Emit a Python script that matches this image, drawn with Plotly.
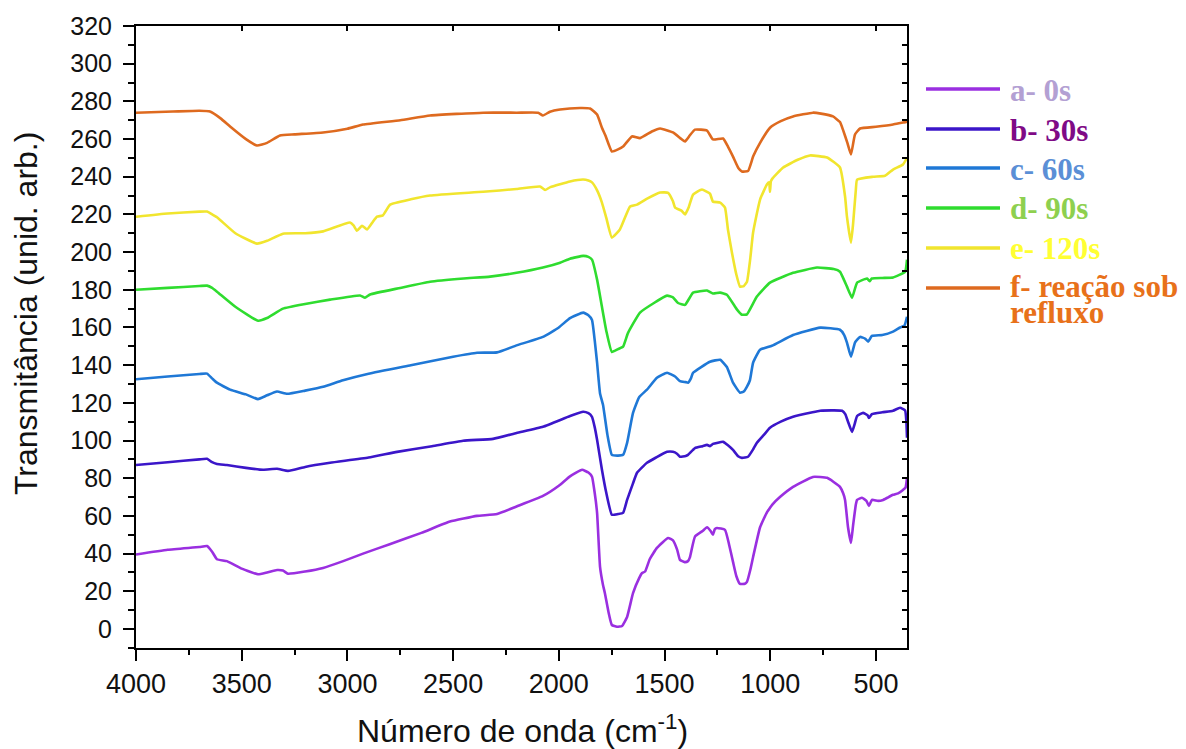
import plotly.graph_objects as go

# ---------------- data (wavenumber cm-1, transmittance arb. units) ----------------
wn_a = [4000, 3850, 3700, 3664, 3640, 3617, 3570, 3500, 3423, 3380, 3333, 3305, 3281, 3200, 3115, 3020,
        2926, 2800, 2650, 2515, 2387, 2292, 2200, 2075, 2000, 1947, 1890, 1860, 1843, 1830, 1819, 1805,
        1791, 1782, 1765, 1749, 1725, 1701, 1677, 1649, 1620, 1606, 1592, 1570, 1536, 1483, 1460, 1440,
        1427, 1405, 1389, 1380, 1356, 1320, 1299, 1282, 1271, 1262, 1252, 1214, 1195, 1176, 1160, 1143,
        1120, 1110, 1095, 1081, 1048, 1015, 1001, 990, 954, 892, 798, 731, 700, 670, 655, 646, 632, 618,
        608, 595, 589, 566, 545, 533, 519, 490, 466, 440, 419, 395, 372, 360, 353]
t_a = [39.5, 42, 43.5, 44, 41, 37, 36, 32, 29, 30, 31.3, 31, 29.3, 30.5, 32.4, 36,
       40, 45, 51, 57, 60, 61, 65, 70.6, 76, 81, 84.5, 83, 80.8, 72, 61.6, 33,
       23.4, 19, 9, 2.1, 1.2, 1.6, 6.4, 19, 27, 29.7, 30.5, 37, 43, 48.3, 47, 42,
       36.7, 35.5, 36, 38, 49, 52, 54, 52, 50, 53, 53.6, 52.6, 45, 35.6, 28, 23.9,
       24, 25, 31, 38.2, 54, 62, 64.3, 66, 70, 75.4, 80.7, 80.2, 78, 75.4, 72, 68.5, 54, 45.7,
       55, 66, 68.5, 69.6, 68, 65.3, 68.5, 68, 68.5, 70, 71.2, 72, 73.8, 75, 80]

wn_b = [4000, 3850, 3700, 3664, 3640, 3617, 3570, 3480, 3399, 3333, 3281, 3200, 3082, 2900, 2765, 2600,
        2453, 2311, 2200, 2075, 1947, 1885, 1860, 1843, 1830, 1819, 1796, 1775, 1749, 1720, 1696, 1677,
        1650, 1630, 1583, 1540, 1488, 1460, 1441, 1427, 1400, 1389, 1356, 1320, 1299, 1285, 1271, 1223,
        1200, 1176, 1150, 1134, 1105, 1080, 1063, 1030, 1001, 950, 892, 800, 764, 700, 660, 645, 632,
        613, 600, 589, 561, 540, 533, 519, 470, 419, 386, 362, 356, 353]
t_b = [87, 88.5, 90, 90.3, 88.5, 87.6, 87, 85.5, 84.5, 85, 83.9, 86, 88.2, 91, 94, 97,
       99.9, 100.9, 104, 107.3, 113, 115.3, 114.5, 112.6, 107, 100.4, 84.5, 72, 60.6, 61, 61.6, 68.5,
       77, 82.9, 88.2, 91, 94, 94, 93, 91.4, 91.8, 92.4, 96, 97, 97.7, 97, 98.2, 99.3,
       97.5, 95, 91.5, 90.8, 91.4, 95.5, 98.8, 103, 106.8, 110, 112.6, 115, 115.8, 116, 115.8, 114, 110,
       104.6, 109, 113, 114.7, 113.5, 112, 114, 115, 115.8, 117.4, 116, 110, 101.5]

wn_c = [4000, 3850, 3700, 3664, 3640, 3617, 3555, 3480, 3423, 3380, 3333, 3285, 3200, 3115, 3021, 2900,
        2700, 2500, 2387, 2292, 2200, 2075, 2000, 1947, 1885, 1860, 1843, 1830, 1819, 1805, 1791, 1770,
        1749, 1720, 1696, 1677, 1649, 1620, 1583, 1536, 1488, 1450, 1427, 1400, 1389, 1375, 1365, 1285,
        1237, 1205, 1176, 1143, 1125, 1110, 1096, 1081, 1048, 992, 892, 764, 670, 650, 637, 618, 599,
        575, 550, 537, 519, 470, 419, 386, 365, 353]
t_c = [132.5, 134, 135.3, 135.5, 133, 130.7, 127, 124.5, 122, 124, 126, 124.8, 126.5, 128.5, 132, 135.5,
       140, 144.5, 146.6, 146.8, 150.5, 155, 160, 165, 167.9, 166.5, 164, 153, 141.3, 125, 119, 103,
       92.4, 92, 92.4, 98.8, 114.7, 123, 127, 133.3, 136, 134, 131.5, 131, 130.7, 133, 136, 141.8,
       142.9, 139, 130.7, 125.4, 126, 128.6, 132, 141.3, 148.2, 150.3, 156, 159.9, 158.8, 156, 152, 144.5, 152,
       155, 154, 152.5, 155.5, 156, 157.8, 160, 161, 165.7]

wn_d = [4000, 3850, 3700, 3664, 3640, 3617, 3530, 3423, 3380, 3305, 3200, 3082, 2940, 2917, 2893, 2750,
        2609, 2450, 2325, 2200, 2075, 1994, 1947, 1885, 1860, 1843, 1819, 1796, 1775, 1749, 1720, 1696,
        1673, 1616, 1550, 1488, 1460, 1436, 1403, 1385, 1365, 1299, 1271, 1237, 1205, 1157, 1134, 1110,
        1063, 1001, 892, 779, 700, 670, 650, 637, 613, 589, 542, 530, 519, 470, 419, 362, 353]
t_d = [180, 181, 182, 182.2, 181, 179, 171, 163.6, 165, 170, 172.5, 174.8, 177, 175.8, 177.5, 181,
       184.3, 186, 187, 189, 191.8, 194.4, 196.5, 198, 197.5, 196, 185.4, 171, 158, 147, 148.5, 149.8,
       157, 167.9, 173, 176.9, 176, 173, 172, 175, 178.5, 179.6, 178, 178.5, 177.4, 169.5, 166.8, 167,
       176.4, 183.8, 189, 191.8, 191, 189.6, 185, 181.7, 175.8, 183.8, 186, 184.5, 186, 186.3, 186.5, 189.6, 196]

wn_e = [4000, 3850, 3700, 3664, 3640, 3617, 3530, 3428, 3380, 3305, 3200, 3115, 2988, 2970, 2955, 2931,
        2907, 2880, 2860, 2832, 2798, 2700, 2609, 2358, 2200, 2089, 2065, 2040, 1947, 1885, 1860, 1843,
        1820, 1796, 1775, 1749, 1711, 1663, 1630, 1580, 1521, 1483, 1460, 1450, 1420, 1403, 1385, 1365,
        1323, 1285, 1271, 1237, 1214, 1200, 1181, 1160, 1143, 1125, 1110, 1095, 1081, 1048, 1015, 1005,
        1001, 997, 990, 939, 870, 812, 731, 670, 646, 637, 618, 608, 595, 589, 514, 457, 419, 372, 353]
t_e = [218.8, 220.5, 221.5, 221.5, 220, 218.5, 210, 204.5, 206, 209.8, 210, 211, 215.7, 214, 211.4, 214,
       212, 216, 218.8, 219.5, 225.2, 228, 230, 232, 233.5, 234.8, 233, 234.5, 237.5, 238.5, 238, 237,
       233, 226.3, 218, 207.7, 212, 224.2, 225.2, 228.5, 231.6, 231.5, 227, 223.6, 222, 220, 224, 230.5,
       233.2, 231, 226.8, 226.3, 223.6, 212, 199.7, 188, 181.7, 182, 184.3, 196, 210.4, 227.9, 236, 237,
       232, 237.5, 239, 244.9, 249, 251.3, 250.2, 244.9, 229.5, 218.8, 205, 215, 233, 238.5, 240, 240.5, 243.8, 246.5, 250]

wn_f = [4000, 3825, 3700, 3650, 3600, 3555, 3480, 3428, 3380, 3319, 3250, 3115, 3000, 2926, 2750, 2609,
        2358, 2200, 2098, 2075, 2042, 1994, 1900, 1852, 1819, 1796, 1780, 1749, 1720, 1696, 1654, 1616,
        1560, 1521, 1460, 1420, 1403, 1380, 1356, 1299, 1271, 1223, 1200, 1176, 1150, 1134, 1105, 1080,
        1048, 1001, 950, 892, 798, 760, 703, 670, 656, 635, 618, 599, 575, 500, 419, 372, 358, 353]
t_f = [274, 274.6, 275, 274.6, 271, 266.7, 260, 256.6, 258, 261.9, 262.5, 263.5, 265.5, 267.7, 270, 272.5,
       274, 274, 274, 272.5, 274.5, 275.7, 276.5, 276.2, 273, 266, 262, 253.4, 254.5, 256, 261.4, 260.5,
       264, 265.6, 263.5, 260, 258.7, 262, 265, 264.5, 259.8, 260.3, 256, 250.7, 244.5, 242.8, 243, 251,
       258, 266, 269.5, 272, 274, 273.5, 272, 269, 265, 258, 251.8, 262.4, 265.6, 266.5, 267.7, 268.8, 269, 270]

series_names = ["a- 0s", "b- 30s", "c- 60s", "d- 90s", "e- 120s", "f- reação sob refluxo"]
legend_text = ["a- 0s", "b- 30s", "c- 60s", "d- 90s", "e- 120s", "f- reação sob", "refluxo"]

x_title = "Número de onda (cm<sup>-1</sup>)"
y_title = "Transmitância (unid. arb.)"

line_colors = ["#9a2fe0", "#3b16c9", "#1f78d6", "#2fdc2f", "#f1e52e", "#de6a1f"]
text_colors = ["#b3a0d3", "#7f0a86", "#5b8fd6", "#8ed04f", "#ffff33", "#e8711a"]

# ---------------- figure ----------------
OFF = 8                      # page body margin of the html page
W, H = 1186 - OFF, 749 - OFF
PL, PR, PT, PB = 136, 907, 26, 648    # plot area edges in page pixels
L, T = PL - OFF, PT - OFF
R, B = W - (PR - OFF), H - (PB - OFF)
pw, ph = PR - PL, PB - PT

def px_x(px):
    return (px - PL) / pw

def px_y(py):
    return (PB - py) / ph

fig = go.Figure()
for wn, tv, name, col in zip([wn_a, wn_b, wn_c, wn_d, wn_e, wn_f],
                             [t_a, t_b, t_c, t_d, t_e, t_f],
                             series_names, line_colors):
    fig.add_trace(go.Scatter(x=wn, y=tv, mode="lines", name=name,
                             line=dict(color=col, width=2.6, shape="spline", smoothing=0.4),
                             showlegend=False))

# invisible trace to activate the mirror (top / right) axes with inward ticks
fig.add_trace(go.Scatter(x=[4000], y=[-50], xaxis="x2", yaxis="y2",
                         mode="markers", marker=dict(size=1, opacity=0),
                         showlegend=False, hoverinfo="skip"))

xr = [4000, 353]
yr = [-10.1, 320]

fig.update_layout(
    width=W, height=H,
    margin=dict(l=L, r=R, t=T, b=B),
    paper_bgcolor="white", plot_bgcolor="white",
    showlegend=False,
    xaxis=dict(range=xr, tick0=0, dtick=500, ticks="outside", ticklen=11, tickwidth=2,
               tickcolor="black", showline=True, linecolor="black", linewidth=2,
               showgrid=False, zeroline=False, automargin=False,
               tickfont=dict(family="Liberation Sans Narrow, Arial Narrow, Liberation Sans, Arial",
                             size=27, color="#111111"),
               minor=dict(dtick=250, ticks="outside", ticklen=5, tickwidth=2, tickcolor="black",
                          showgrid=False)),
    yaxis=dict(range=yr, tick0=0, dtick=20, ticks="outside", ticklen=11, tickwidth=2,
               tickcolor="black", showline=True, linecolor="black", linewidth=2,
               showgrid=False, zeroline=False, ticklabelstandoff=6, automargin=False,
               tickfont=dict(family="Liberation Sans, Arial", size=25, color="#111111"),
               minor=dict(dtick=10, ticks="outside", ticklen=6, tickwidth=2, tickcolor="black",
                          showgrid=False)),
    xaxis2=dict(range=xr, overlaying="x", side="top", anchor="y2", tick0=0, dtick=500,
                ticks="inside", ticklen=5, tickwidth=2, tickcolor="black", automargin=False,
                showline=True, linecolor="black", linewidth=2, showticklabels=False,
                showgrid=False, zeroline=False),
    yaxis2=dict(range=yr, overlaying="y", side="right", anchor="x2", tick0=0, dtick=10,
                ticks="inside", ticklen=5, tickwidth=2, tickcolor="black", automargin=False,
                showline=True, linecolor="black", linewidth=2, showticklabels=False,
                showgrid=False, zeroline=False),
)

# axis titles
fig.add_annotation(text=y_title, xref="paper", yref="paper", x=px_x(26), y=px_y(314),
                   textangle=-90, showarrow=False, xanchor="center", yanchor="middle",
                   font=dict(family="Liberation Sans, Arial", size=32, color="#111111"))
fig.add_annotation(text=x_title, xref="paper", yref="paper", x=px_x(522), y=px_y(729),
                   showarrow=False, xanchor="center", yanchor="middle",
                   font=dict(family="Liberation Sans, Arial", size=32, color="#111111"))

# custom legend (coloured line + coloured bold serif label)
line_y = [89, 129, 168, 208, 248, 288]
for ly, lc in zip(line_y, line_colors):
    fig.add_shape(type="line", xref="paper", yref="paper",
                  x0=px_x(926), x1=px_x(1000), y0=px_y(ly), y1=px_y(ly),
                  line=dict(color=lc, width=3.5))
text_y = [91, 130, 169, 209, 249, 286, 312]
text_col = text_colors + [text_colors[-1]]
for txt, ty, tc in zip(legend_text, text_y, text_col):
    fig.add_annotation(text="<b>" + txt + "</b>", xref="paper", yref="paper",
                       x=px_x(1008), y=px_y(ty), showarrow=False,
                       xanchor="left", yanchor="middle",
                       font=dict(family="Liberation Serif, Times New Roman, serif", size=31, color=tc))

fig.write_html("out.html")
